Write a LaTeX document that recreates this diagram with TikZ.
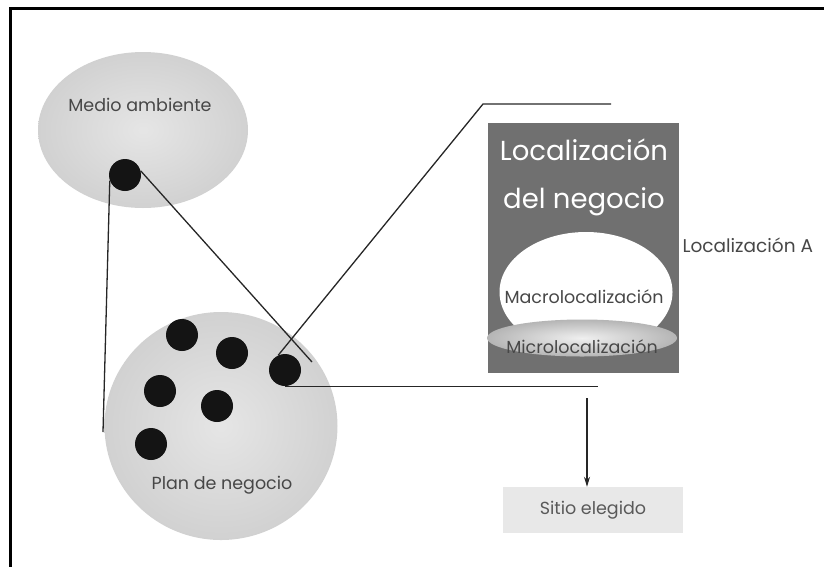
\documentclass[tikz,border=0pt]{standalone}
\usepackage{fontspec}
\setmainfont{Poppins}
\usetikzlibrary{shapes}
\usetikzlibrary{positioning}
\usetikzlibrary{arrows.meta}
\tikzset{
    ambnode/.style = {ellipse, inner sep=0pt, inner color=gray!20, outer color=gray!36},
    dotnode/.style = {circle, inner sep=0pt, minimum size=32, fill=black!92},
    locbox/.style = {rectangle, inner sep=0pt, fill=black!56},
    macronode/.style = {ellipse, inner sep=0pt, fill=white},
    micronode/.style = {ellipse, inner sep=0pt, inner color=gray!12, outer color=gray!58},
    sitionode/.style = {rectangle, inner sep=0pt, fill=gray!18, font=\fontsize{17.5}{20}\selectfont, text=black!65},
    txtnode/.style = {font=\fontsize{17.5}{20}\selectfont, text=black!72},
    bigtxt/.style = {font=\fontsize{27.5}{30}\selectfont, text=white},
    edgen/.style = {-, line width=1.3pt, black!85},
    edgea/.style = {-{Stealth[length=10pt,width=6pt]}, line width=1.3pt, black!85}
}

\begin{document}
\begin{tikzpicture}[x=1pt, y=-1pt]
  \useasboundingbox (0,0) rectangle (824,566);
  \draw[line width=3pt] (10,570) -- (10,8) -- (830,8);
  % ellipses
  \node[ambnode, minimum width=210, minimum height=156] (ma) at (143,130) {};
  \node[ambnode, minimum width=233, minimum height=228] (pn) at (221,426) {};
  \node[txtnode] (tma) at (140,105) {Medio ambiente};
  \node[txtnode] (tpn) at (222,485) {Plan de negocio};
  % dots
  \node[dotnode] (dm) at (125,175) {};
  \node[dotnode] (d1) at (182,335) {};
  \node[dotnode] (d2) at (232,353) {};
  \node[dotnode] (d3) at (285,370) {};
  \node[dotnode] (d4) at (160,391) {};
  \node[dotnode] (d5) at (217,406) {};
  \node[dotnode] (d6) at (151,444) {};
  % localizacion
  \node[locbox, minimum width=191, minimum height=250] (loc) at (583,248) {};
  \node[macronode, minimum width=173, minimum height=120] (macro) at (586,292) {};
  \node[micronode, minimum width=190, minimum height=37] (micro) at (582,338) {};
  \node[bigtxt] (t1) at (584,150) {Localización};
  \node[bigtxt] (t2) at (584,202) {del negocio};
  \node[txtnode] (tmac) at (584,297) {Macrolocalización};
  \node[txtnode] (tmic) at (582,347) {Microlocalización};
  \node[txtnode, anchor=west, font=\fontsize{18.5}{20}\selectfont] (tla) at (679,245) {Localización A};
  \node[sitionode, minimum width=180, minimum height=46] (si) at (593,510) {Sitio elegido};
  % free ends
  \coordinate (ml) at (103,432);
  \coordinate (mx) at (312,362);
  \coordinate (tk) at (483,104);
  \coordinate (te) at (611,104);
  \coordinate (bl) at (598,386);
  \coordinate (as) at (587,398);
  \draw[edgen] (dm.200) -- (ml);
  \draw[edgen] (dm.15) -- (mx);
  \draw[edgen] (d3.115) -- (tk) -- (te);
  \draw[edgen] (d3.south) -- (d3.south -| bl);
  \draw[edgea] (as) -- (as |- si.north);
\end{tikzpicture}
\end{document}
